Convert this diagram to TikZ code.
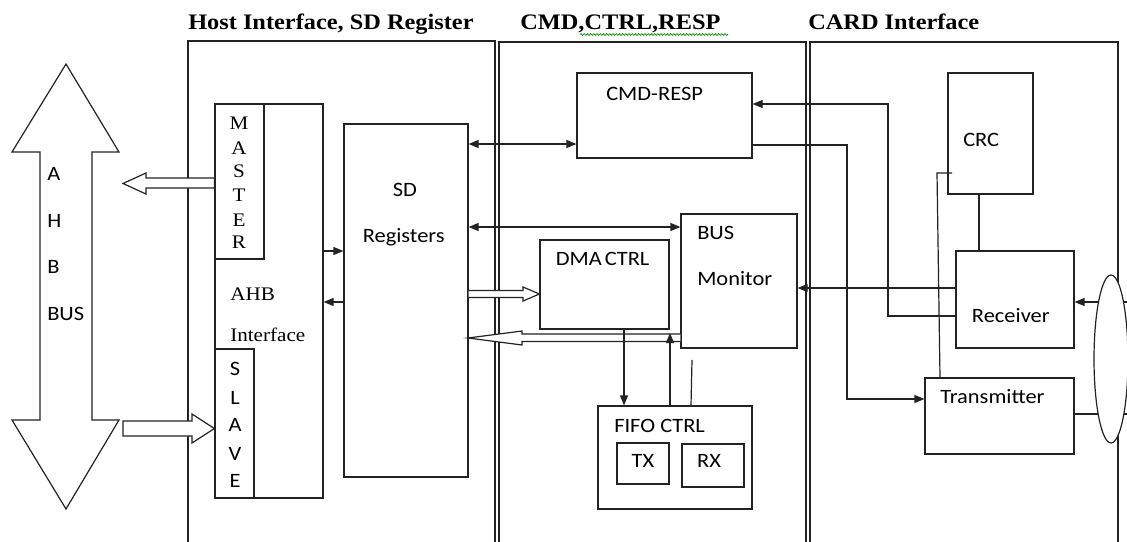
\documentclass[tikz,border=0pt]{standalone}
\usepackage{fontspec}
\setmainfont{Liberation Serif}[FakeStretch=1.1]
\newfontfamily\sfcal{Carlito}[FakeStretch=1.1]
\usetikzlibrary{arrows.meta,fit,shapes.geometric,decorations.pathmorphing}
\definecolor{ln}{RGB}{35,35,35}
\tikzset{
  blk/.style={draw=ln, line width=0.9pt, inner sep=0pt, rectangle},
  lbl/.style={font=\sfcal\fontsize{15.3}{18}\selectfont, inner sep=0pt, anchor=base west},
  lblc/.style={lbl, anchor=base},
  slbl/.style={font=\fontsize{14.4}{17}\selectfont, inner sep=0pt, anchor=base west},
  slblc/.style={slbl, anchor=base},
  ttl/.style={font=\bfseries\fontsize{16.6}{20}\selectfont, inner sep=0pt, anchor=base west},
  con/.style={draw=ln, line width=0.9pt},
  arr/.style={con, -{Triangle[length=7.5pt,width=6pt]}},
  darr/.style={con, {Triangle[length=7.5pt,width=6pt]}-{Triangle[length=7.5pt,width=6pt]}},
  hol/.style={draw=ln, line width=0.9pt, fill=white, line join=miter}
}
\begin{document}
\begin{tikzpicture}[x=0.75pt,y=-0.75pt]
\useasboundingbox (0,0) rectangle (1127,542);
\clip (0,0) rectangle (1127,542);
\fill[white] (0,0) rectangle (1127,542);

% titles
\node[ttl] (t1) at (188,30) {Host Interface, SD Register};
\node[ttl] (t2) at (520,30) {CMD,CTRL,RESP};
\node[ttl] (t3) at (808,30) {CARD Interface};
\draw[green!55!black, line width=0.5pt, decorate, decoration={snake, amplitude=0.7pt, segment length=2.4pt}] (580,34.5) -- (728,34.5);

% panels
\node[blk, fit={(188,41)(495,580)}] (p1) {};
\node[blk, fit={(499,42)(806,580)}] (p2) {};
\node[blk, fit={(810,42)(1118,580)}] (p3) {};

% AHB bus double arrow
\draw[hol] (66,64) -- (119,152) -- (92,152) -- (92,420) -- (119,420) -- (66,509)
  -- (12,420) -- (40,420) -- (40,152) -- (12,152) -- cycle;
\node[lbl] (ba) at (47,180) {A};
\node[lbl] (bh) at (47,227) {H};
\node[lbl] (bb) at (47,273) {B};
\node[lbl] (bbus) at (47,320) {BUS};

% AHB interface
\node[blk, fit={(215,104)(323,498)}] (ahb) {};
\node[blk, fit={(215,104)(264,259)}] (mst) {};
\node[blk, fit={(215,349)(254,498)}] (slv) {};
\node[slblc] at (239,129) {M};
\node[slblc] at (239,154) {A};
\node[slblc] at (239,177) {S};
\node[slblc] at (239,201.5) {T};
\node[slblc] at (239,226) {E};
\node[slblc] at (239,248) {R};
\node[lblc] at (235,375) {S};
\node[lblc] at (235,404) {L};
\node[lblc] at (235,431) {A};
\node[lblc] at (235,460) {V};
\node[lblc] at (235,487) {E};
\node[slbl] (ahbt) at (230,300) {AHB};
\node[slbl] (ahbi) at (230,341.5) {Interface};

% master / slave hollow arrows
\draw[hol] (mst.west |- 0,178) -- (146,178) -- (146,173) -- (123,183.5) -- (146,194) -- (146,188) -- (mst.west |- 0,188) -- cycle;
\draw[hol] (123,421) -- (192,421) -- (192,414) -- (slv.west |- 0,428.5) -- (192,443) -- (192,436) -- (123,436) -- cycle;

% SD registers
\node[blk, fit={(344,124)(468,477)}] (sd) {};
\node[lblc] at (405,196.7) {SD};
\node[lbl] at (362.5,242.7) {Registers};

\draw[arr] (ahb.east |- 0,251) -- (sd.west |- 0,251);
\draw[arr] (sd.west |- 0,302) -- (ahb.east |- 0,302);

% CMD-RESP
\node[blk, fit={(577,73)(752,158)}] (cmd) {};
\node[lbl] at (606,100) {CMD-RESP};

% BUS monitor
\node[blk, fit={(681,214)(797,348)}] (bm) {};
\node[lbl] at (697,239) {BUS};
\node[lbl] at (697,285.7) {Monitor};

% DMA CTRL
\node[blk, fit={(540,240)(669,329)}] (dma) {};
\node[lbl] at (555.5,265.7) {DMA\hspace{-1.5pt} CTRL};

% FIFO
\node[blk, fit={(598,406)(752,509)}] (fifo) {};
\node[lbl] at (614,432) {FIFO CTRL};
\node[blk, fit={(617,443)(669,484)}] (tx) {};
\node[blk, fit={(682,444)(744,487)}] (rx) {};
\node[lblc] at (643,467.7) {TX};
\node[lblc] at (709,467.7) {RX};

\draw[darr] (sd.east |- 0,144) -- (cmd.west |- 0,144);
\draw[darr] (sd.east |- 0,227) -- (bm.west |- 0,227);

% hollow arrows SD <-> DMA / BUS monitor
\draw[hol] (sd.east |- 0,290.5) -- (523,290.5) -- (523,287) -- (dma.west |- 0,294) -- (523,301) -- (523,297.5) -- (sd.east |- 0,297.5);
\draw[hol] (bm.west |- 0,334) -- (522,334) -- (522,331) -- (468,338) -- (522,345) -- (522,341.5) -- (bm.west |- 0,341.5);

\coordinate (upend) at (670,333);
\coordinate (stub) at (692,360);
\draw[arr] (dma.south -| 624,0) -- (fifo.north -| 624,0);
\draw[arr] (fifo.north -| upend) -- (upend);
\draw[con] (fifo.north -| 691,0) -- (stub);

% card interface
\node[blk, fit={(948,73)(1033,194)}] (crc) {};
\node[lbl] at (963,146) {CRC};
\node[blk, fit={(956,251)(1074,348)}] (rcv) {};
\node[lbl] at (971.7,322.7) {Receiver};
\node[blk, fit={(925,378)(1074,454)}] (trm) {};
\node[lbl] at (940,403.3) {Transmitter};

\draw[con] (crc.south -| 979,0) -- (rcv.north -| 979,0);
\coordinate (crcj) at (952,173);
\coordinate (crck) at (937,173);
\draw[con] (crcj) -- (crck) -- (trm.north -| 940,0);

\coordinate (rc1) at (888,104);
\coordinate (ct1) at (847,399);
\draw[arr] (rcv.west |- 0,316) -| (rc1) -- (cmd.east |- rc1);
\draw[arr] (rcv.west |- 0,288) -- (bm.east |- 0,288);
\draw[arr] (cmd.east |- 0,145) -| (ct1) -- (trm.west |- ct1);

\draw[arr] (1135,302) -- (rcv.east |- 0,302);
\draw[con] (trm.east |- 0,414) -- (1135,414);
\node[draw=ln, line width=0.9pt, fill=white, ellipse, inner sep=0pt, minimum width=25.5pt, minimum height=126pt] (ell) at (1111,359) {};
\end{tikzpicture}
\end{document}
